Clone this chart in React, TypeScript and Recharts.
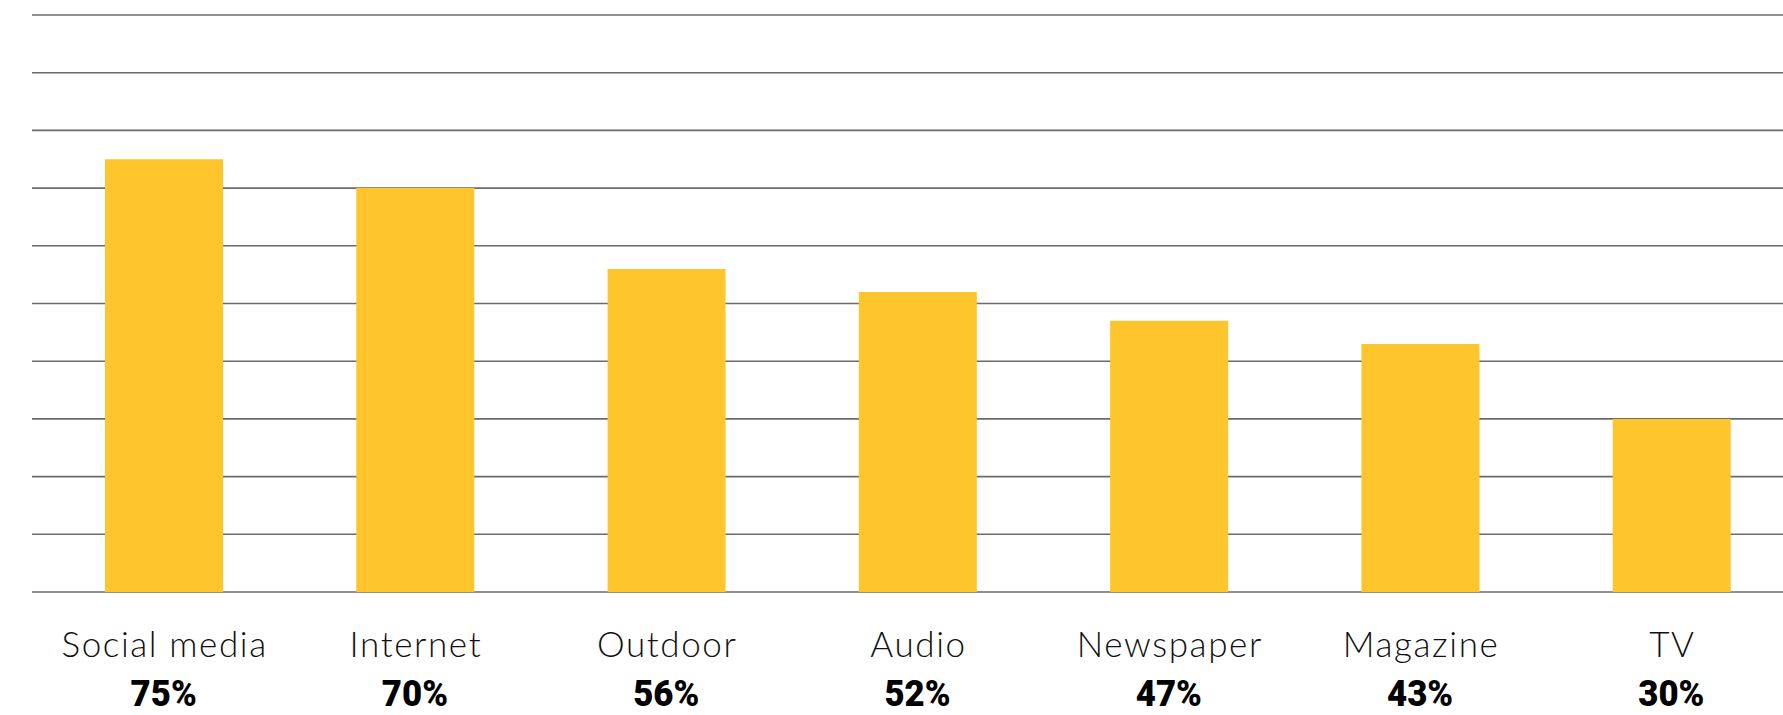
import { Bar, BarChart, CartesianGrid, XAxis, YAxis } from "recharts";

const channels = ["Social media", "Internet", "Outdoor", "Audio", "Newspaper", "Magazine", "TV"];
const shares = [75, 70, 56, 52, 47, 43, 30];
const gridTicks = [0, 10, 20, 30, 40, 50, 60, 70, 80, 90, 100];

const data = channels.map((channel, i) => ({ channel, share: shares[i] }));

const ChannelTick = (props: any) => {
  const { x, y, payload } = props;
  const idx = channels.indexOf(payload.value);
  return (
    <g transform={`translate(${x},${y})`}>
      <text
        x={1}
        y={57}
        textAnchor="middle"
        fill="#111"
        letterSpacing={1.6}
        style={{ fontFamily: "Lato, 'Noto Sans', sans-serif", fontWeight: 300, fontSize: 35 }}
      >
        {payload.value}
      </text>
      <g transform="translate(0,106) scale(0.94,1)">
        <text
          x={0}
          y={0}
          textAnchor="middle"
          fill="#000"
          style={{ fontFamily: "Roboto, 'DejaVu Sans', sans-serif", fontWeight: 900, fontSize: 37 }}
        >
          {shares[idx]}%
        </text>
      </g>
    </g>
  );
};

const App = () => {
  return (
    <div style={{ position: "fixed", left: 0, top: 0, width: 1783, height: 715, overflow: "hidden", background: "#fff" }}>
      <BarChart width={1800} height={715} data={data} margin={{ top: 15, right: 3, bottom: 0, left: 32 }}>
        <CartesianGrid vertical={false} stroke="#6b6b6b" strokeWidth={1.6} />
        <XAxis
          dataKey="channel"
          axisLine={false}
          tickLine={false}
          interval={0}
          height={123}
          padding={{ left: 6, right: 0 }}
          tick={<ChannelTick />}
        />
        <YAxis hide domain={[0, 100]} ticks={gridTicks} />
        <Bar dataKey="share" fill="#FEC52D" barSize={118} isAnimationActive={false} />
      </BarChart>
    </div>
  );
};

export default App;
